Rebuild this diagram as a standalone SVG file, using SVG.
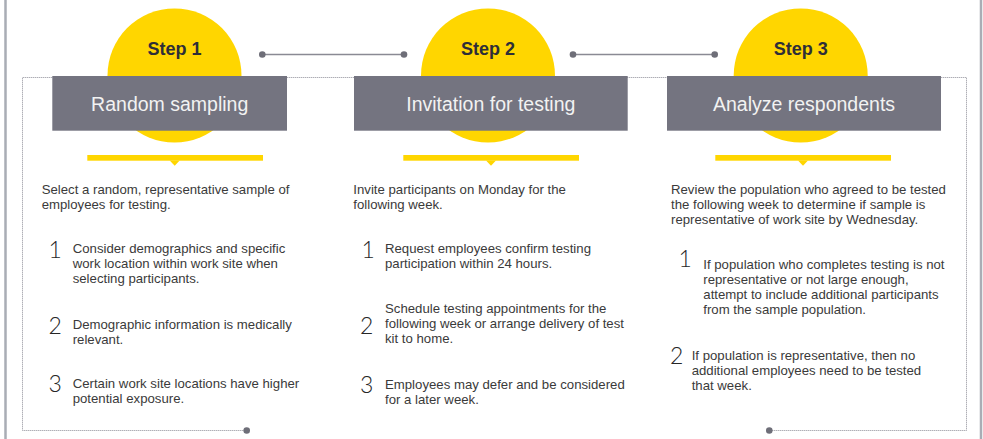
<svg xmlns="http://www.w3.org/2000/svg" width="983" height="439" viewBox="0 0 983 439">
  <style>
    .edge { stroke: #a9adb5; stroke-width: 2.5; fill: none; }
    .frame { stroke: #8c8c96; stroke-width: 1; stroke-dasharray: 1 1; fill: none; }
    .link { stroke: #8a8a94; stroke-width: 1.5; fill: none; }
    .dot { fill: #6e6e78; }
    .disc { fill: #FFD600; }
    .band { fill: #FFD600; }
    .box { fill: #747480; }
    .step { font-family: "Liberation Sans", Arial, sans-serif; font-size: 18px; font-weight: bold; fill: #2e2e38; text-anchor: middle; }
    .title { font-family: "Liberation Sans", Arial, sans-serif; font-size: 19.5px; fill: #f2f2f2; text-anchor: middle; }
    .body { font-family: "Liberation Sans", Arial, sans-serif; font-size: 13.2px; fill: #3a3a3a; }
    .num { font-family: Lato, Roboto, "Liberation Sans", sans-serif; font-size: 23px; font-weight: 300; fill: #262626; }
  </style>

  <!-- outer side rules -->
  <line class="edge" x1="5.5" y1="0" x2="5.5" y2="439"/>
  <line class="edge" x1="981" y1="0" x2="981" y2="439"/>

  <!-- dotted frame around the three steps -->
  <g id="frame">
    <path class="frame" d="M246.7 430.5 H22.5 V77.5 H966.5 V430.5 H769"/>
    <circle class="dot" cx="246.7" cy="430.5" r="3.3"/>
    <circle class="dot" cx="769.3" cy="430.5" r="3.3"/>
  </g>

  <!-- connectors between the step discs -->
  <g id="connectors">
    <line class="link" x1="262.3" y1="54.5" x2="404" y2="54.5"/>
    <circle class="dot" cx="262.3" cy="54.5" r="3.3"/>
    <circle class="dot" cx="404" cy="54.5" r="3.3"/>
    <line class="link" x1="573" y1="54.5" x2="714.7" y2="54.5"/>
    <circle class="dot" cx="573" cy="54.5" r="3.3"/>
    <circle class="dot" cx="714.7" cy="54.5" r="3.3"/>
  </g>

  <!-- Step 1 -->
  <g id="step1">
    <circle class="disc" cx="174.5" cy="75.5" r="67"/>
    <text class="step" x="174.5" y="54.5">Step 1</text>
    <rect class="box" x="52.3" y="76" width="234.7" height="54.7"/>
    <text class="title" x="169.7" y="110.7">Random sampling</text>
    <rect class="band" x="87.3" y="155" width="175.7" height="5.7"/>
    <path class="band" d="M169.7 160.5 L174.7 165.7 L179.7 160.5 Z"/>
    <text class="body" x="41.7" y="194">Select a random, representative sample of</text>
    <text class="body" x="41.7" y="209">employees for testing.</text>
    <text class="num" x="48.5" y="258">1</text>
    <text class="body" x="72.7" y="253.3">Consider demographics and specific</text>
    <text class="body" x="72.7" y="268.3">work location within work site when</text>
    <text class="body" x="72.7" y="283.3">selecting participants.</text>
    <text class="num" x="48.5" y="333.5">2</text>
    <text class="body" x="72.7" y="329.3">Demographic information is medically</text>
    <text class="body" x="72.7" y="344.3">relevant.</text>
    <text class="num" x="48.5" y="392">3</text>
    <text class="body" x="72.7" y="388.3">Certain work site locations have higher</text>
    <text class="body" x="72.7" y="403.3">potential exposure.</text>
  </g>

  <!-- Step 2 -->
  <g id="step2">
    <circle class="disc" cx="488" cy="75.5" r="67"/>
    <text class="step" x="488" y="54.5">Step 2</text>
    <rect class="box" x="354" y="76" width="273.7" height="54.7"/>
    <text class="title" x="490.8" y="110.7">Invitation for testing</text>
    <rect class="band" x="403.3" y="155" width="175.7" height="5.7"/>
    <path class="band" d="M486 160.5 L491 165.7 L496 160.5 Z"/>
    <text class="body" x="353.3" y="194">Invite participants on Monday for the</text>
    <text class="body" x="353.3" y="209">following week.</text>
    <text class="num" x="361.5" y="258">1</text>
    <text class="body" x="385" y="253.3">Request employees confirm testing</text>
    <text class="body" x="385" y="268.3">participation within 24 hours.</text>
    <text class="num" x="360" y="334">2</text>
    <text class="body" x="385" y="313.3">Schedule testing appointments for the</text>
    <text class="body" x="385" y="328.3">following week or arrange delivery of test</text>
    <text class="body" x="385" y="343.3">kit to home.</text>
    <text class="num" x="360" y="392.5">3</text>
    <text class="body" x="385" y="389">Employees may defer and be considered</text>
    <text class="body" x="385" y="404">for a later week.</text>
  </g>

  <!-- Step 3 -->
  <g id="step3">
    <circle class="disc" cx="800.7" cy="75.5" r="67"/>
    <text class="step" x="800.7" y="54.5">Step 3</text>
    <rect class="box" x="667" y="76" width="274" height="54.7"/>
    <text class="title" x="804" y="110.7">Analyze respondents</text>
    <rect class="band" x="715.3" y="155" width="175.7" height="5.7"/>
    <path class="band" d="M798 160.5 L803 165.7 L808 160.5 Z"/>
    <text class="body" x="671" y="194">Review the population who agreed to be tested</text>
    <text class="body" x="671" y="209">the following week to determine if sample is</text>
    <text class="body" x="671" y="224">representative of work site by Wednesday.</text>
    <text class="num" x="678.5" y="267">1</text>
    <text class="body" x="703.3" y="269">If population who completes testing is not</text>
    <text class="body" x="703.3" y="284">representative or not large enough,</text>
    <text class="body" x="703.3" y="299">attempt to include additional participants</text>
    <text class="body" x="703.3" y="314">from the sample population.</text>
    <text class="num" x="670" y="363.5">2</text>
    <text class="body" x="691.7" y="360">If population is representative, then no</text>
    <text class="body" x="691.7" y="375">additional employees need to be tested</text>
    <text class="body" x="691.7" y="390">that week.</text>
  </g>
</svg>
